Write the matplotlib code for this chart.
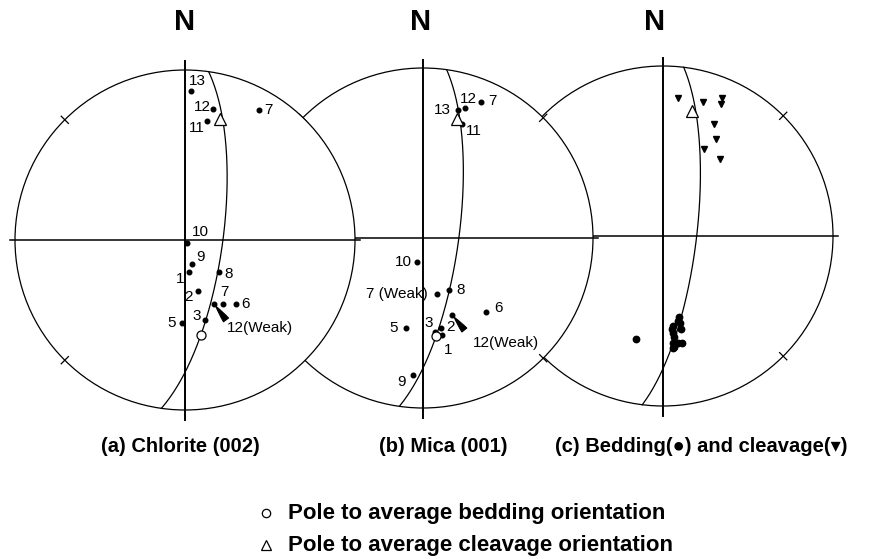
import numpy as np
import matplotlib
matplotlib.use("Agg")
import matplotlib.pyplot as plt
from matplotlib.patches import Circle
from matplotlib.lines import Line2D

plt.rcParams['font.family'] = ['Liberation Sans', 'DejaVu Sans']

# ---------------------------------------------------------------------------
# Data: projected positions on a unit equal-area net (x = east, y = north)
# ---------------------------------------------------------------------------
# (a) Chlorite (002) poles
a_labels = ["13", "12", "11", "7", "10", "9", "1", "8", "2", "7", "12(Weak)", "6", "5", "3"]
a_x = [0.035, 0.165, 0.129, 0.435, 0.012, 0.041, 0.024, 0.200, 0.076, 0.224, 0.171, 0.300, -0.018, 0.118]
a_y = [0.876, 0.771, 0.700, 0.765, -0.018, -0.141, -0.188, -0.188, -0.300, -0.376, -0.376, -0.376, -0.488, -0.471]

# (b) Mica (001) poles
b_labels = ["13", "12", "7", "11", "10", "8", "7 (Weak)", "6", "12(Weak)", "5", "3", "2", "1", "9"]
b_x = [0.208, 0.247, 0.339, 0.228, -0.034, 0.153, 0.080, 0.371, 0.173, -0.100, 0.071, 0.106, 0.110, -0.061]
b_y = [0.753, 0.763, 0.798, 0.671, -0.143, -0.306, -0.331, -0.437, -0.453, -0.531, -0.551, -0.531, -0.572, -0.806]

# (c) bedding poles and cleavage poles
bed_x = [0.096, 0.086, 0.100, 0.061, 0.051, 0.104, 0.061, 0.067, 0.057, 0.067, 0.090, 0.110, 0.061, -0.161]
bed_y = [-0.478, -0.498, -0.510, -0.529, -0.549, -0.549, -0.573, -0.596, -0.628, -0.651, -0.631, -0.628, -0.661, -0.608]
clv_x = [0.090, 0.237, 0.349, 0.339, 0.302, 0.312, 0.243, 0.335]
clv_y = [0.814, 0.790, 0.814, 0.776, 0.659, 0.569, 0.510, 0.453]

# Poles to the average bedding (circle) and cleavage (triangle) per net
avg_bed = {"a": (0.094, -0.559), "b": (0.076, -0.575), "c": None}
avg_clv = {"a": (0.206, 0.712), "b": (0.198, 0.698), "c": (0.169, 0.735)}

# Great circle (strike, dip) drawn on each net
planes = {"a": (8.0, 72.0), "b": (8.0, 73.0), "c": (7.0, 74.0)}

titles = ["(a) Chlorite (002)", "(b) Mica (001)", "(c) Bedding(\u25cf) and cleavage(\u25be)"]
legend_text = ["Pole to average bedding orientation", "Pole to average cleavage orientation"]

# ---------------------------------------------------------------------------
# Layout
# ---------------------------------------------------------------------------
W, H = 873, 559
R = 170.0          # net radius in pixels
PAD = 1.12         # axes half-width in net units
centers = {"a": (185, 240), "b": (423, 238), "c": (663, 236)}

# label offsets (points) relative to each pole
a_off = [(4.3, 7.2), (-7.9, 1.4), (-7.2, -5.0), (6.5, 0), (9.4, 7.9), (5.8, 5.0), (-6.5, -5.0),
         (7.2, -1.4), (-6.5, -4.3), (0.7, 8.6), (33.1, -17.3), (7.2, 0), (-7.2, 0), (-5.8, 2.9)]
b_off = [(-11.5, 0), (2.2, 6.5), (8.6, 0.7), (8.6, -5.0), (-10.1, 0), (8.6, 0), (-28.8, 0),
         (8.6, 2.9), (38.2, -20.2), (-8.6, 0), (-4.3, 6.5), (6.5, 0.7), (4.3, -10.8), (-7.9, -5.0)]

fig = plt.figure(figsize=(W / 100, H / 100), dpi=100)


def great_circle(strike, dip, n=241):
    s, d = np.radians(strike), np.radians(dip)
    t = np.linspace(0, np.pi, n)
    sv = np.array([np.sin(s), np.cos(s), 0.0])
    dv = np.array([np.sin(s + np.pi / 2) * np.cos(d), np.cos(s + np.pi / 2) * np.cos(d), -np.sin(d)])
    p = np.outer(np.cos(t), sv) + np.outer(np.sin(t), dv)
    plunge = np.arcsin(np.clip(-p[:, 2], -1, 1))
    trend = np.arctan2(p[:, 0], p[:, 1])
    r = np.sqrt(2) * np.sin((np.pi / 2 - plunge) / 2)
    return r * np.sin(trend), r * np.cos(trend)


def make_net(key, z, tick_dirs):
    cx, cy = centers[key]
    L = PAD * R
    ax = fig.add_axes([(cx - L) / W, (H - cy - L) / H, 2 * L / W, 2 * L / H])
    ax.set_xlim(-PAD, PAD)
    ax.set_ylim(-PAD, PAD)
    ax.axis("off")
    ax.patch.set_visible(False)
    ax.set_zorder(z)
    ax.add_patch(Circle((0, 0), 1.0, fc="white", ec="black", lw=0.9, zorder=1))
    ax.plot([0, 0], [-1.06, 1.05], color="black", lw=1.4, zorder=2, clip_on=False)
    ax.plot([-1.03, 1.03], [0, 0], color="black", lw=1.1, zorder=2, clip_on=False)
    for ang in tick_dirs:
        th = np.radians(ang)
        ax.plot([0.97 * np.sin(th), 1.03 * np.sin(th)], [0.97 * np.cos(th), 1.03 * np.cos(th)],
                color="black", lw=0.9, zorder=2)
    gx, gy = great_circle(*planes[key])
    ax.plot(gx, gy, color="black", lw=0.9, zorder=2)
    return ax


ax_c = make_net("c", 1, [45, 135])
ax_b = make_net("b", 2, [45, 135, 225, 315])
ax_a = make_net("a", 3, [225, 315])


def label_poles(ax, xs, ys, labels, offs, weak_arrow):
    ax.plot(xs, ys, "o", color="black", ms=3.3, zorder=5)
    for x, y, lab, (dx, dy) in zip(xs, ys, labels, offs):
        ax.annotate(lab, (x, y), xytext=(dx, dy), textcoords="offset points",
                    ha="center", va="center", fontsize=11, zorder=6, annotation_clip=False)
        if lab == "12(Weak)":
            ax.annotate("", (x, y), xytext=weak_arrow, textcoords="offset points",
                        arrowprops=dict(arrowstyle="wedge,tail_width=0.45,shrink_factor=0.6",
                                        fc="black", ec="black", lw=0.8, shrinkA=0, shrinkB=2),
                        zorder=6)


label_poles(ax_a, a_x, a_y, a_labels, a_off, (8.6, -11.5))
label_poles(ax_b, b_x, b_y, b_labels, b_off, (8.6, -10.8))

ax_c.plot(bed_x, bed_y, "o", color="black", ms=4.6, zorder=5)
ax_c.plot(clv_x, clv_y, "v", color="black", ms=4.2, zorder=5)

for key, ax in (("a", ax_a), ("b", ax_b), ("c", ax_c)):
    if avg_bed[key] is not None:
        ax.plot(*avg_bed[key], "o", mfc="white", mec="black", mew=0.9, ms=6.5, zorder=7)
    ax.plot(*avg_clv[key], "^", mfc="white", mec="black", mew=0.9, ms=9, zorder=7)

# North labels
for key, xn in (("a", 185), ("b", 421), ("c", 655)):
    fig.text(xn / W, 1 - 22 / H, "N", ha="center", va="center", fontsize=21, fontweight="bold")

# Panel titles
for t, xt in zip(titles, (180, 443, 701)):
    fig.text(xt / W, 1 - 447 / H, t, ha="center", va="center", fontsize=14.5, fontweight="bold",
             family=['Liberation Sans', 'DejaVu Sans'])

# Legend
fig.add_artist(Line2D([266 / W], [1 - 513 / H], marker="o", mfc="white", mec="black", mew=0.9,
                      ms=6, transform=fig.transFigure))
fig.add_artist(Line2D([266 / W], [1 - 545 / H], marker="^", mfc="white", mec="black", mew=0.9,
                      ms=7, transform=fig.transFigure))
for t, yt in zip(legend_text, (513, 545)):
    fig.text(288 / W, 1 - yt / H, t, ha="left", va="center", fontsize=16, fontweight="bold")

fig.savefig("out.png", dpi=100)
